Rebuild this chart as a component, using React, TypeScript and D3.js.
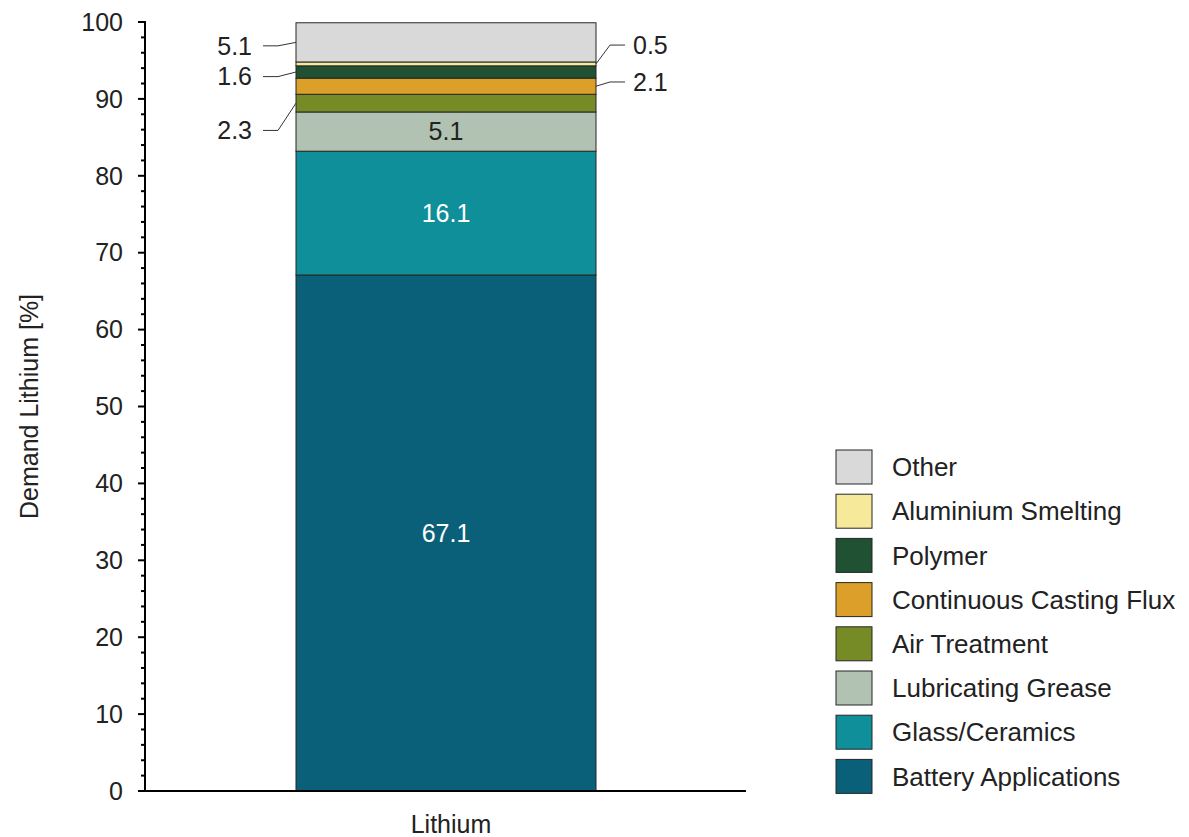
import * as d3 from "d3";

const categories = ["Lithium"];
const keys = [
    "Battery Applications",
    "Glass/Ceramics",
    "Lubricating Grease",
    "Air Treatment",
    "Continuous Casting Flux",
    "Polymer",
    "Aluminium Smelting",
    "Other",
];
const values = [67.1, 16.1, 5.1, 2.3, 2.1, 1.6, 0.5, 5.1];
const colors = ["#0b6079", "#0e8f9a", "#b1c2b3", "#768a26", "#dca02a", "#1f5132", "#f7e99a", "#d9d9d9"];
const yTicks = [0, 10, 20, 30, 40, 50, 60, 70, 80, 90, 100];

// label placement: inside, or outside left/right with leader line
const labelPos = ["in", "in", "in", "left", "right", "left", "right", "left"];
const labelColor = ["#fff", "#fff", "#222", "#222", "#222", "#222", "#222", "#222"];
// y of the outside label text, in value units
const outsideLabelAt = [null, null, null, 85.9, 92.2, 92.9, 97.0, 96.9];

const App = () => {
    const width = 1189;
    const height = 837;
    const marginLeft = 146;
    const marginTop = 22;
    const marginBottom = 46;
    const axisRight = 746;

    const row: Record<string, number> = {};
    keys.forEach((k, i) => { row[k] = values[i]; });
    const series = d3.stack<Record<string, number>>().keys(keys)([row]);

    const x = d3.scaleBand().domain(categories).range([marginLeft, axisRight]).paddingInner(0).paddingOuter(0.5);
    const y = d3.scaleLinear().domain([0, 100]).range([height - marginBottom, marginTop]);

    const minor = d3.range(0, 101, 2).filter(v => v % 10 !== 0);
    const font = "Liberation Sans, Arial, sans-serif";
    const fs = 25;
    const bx0 = x(categories[0]) as number;
    const bx1 = bx0 + x.bandwidth();

    return (
        <div style={{ position: "absolute", left: 0, top: 0 }}>
            <svg width={width} height={height} style={{ display: "block" }} fontFamily={font}>
                {series.map((s, i) => {
                    const d = s[0];
                    const y0 = y(d[0]);
                    const y1 = y(d[1]);
                    const mid = y((d[0] + d[1]) / 2);
                    const pos = labelPos[i];
                    return (
                        <g key={keys[i]}>
                            <rect x={bx0} y={y1} width={x.bandwidth()} height={y0 - y1}
                                  fill={colors[i]} stroke="#262626" strokeWidth={1} />
                            {pos === "in" &&
                                <text x={(bx0 + bx1) / 2} y={mid} dy="0.35em" textAnchor="middle"
                                      fontSize={fs} fill={labelColor[i]}>{values[i].toFixed(1)}</text>}
                            {pos === "left" && (() => {
                                const ty = y(outsideLabelAt[i] as number);
                                return (
                                    <g>
                                        <polyline fill="none" stroke="#333" strokeWidth={1}
                                                  points={`${bx0},${mid} ${bx0 - 18},${ty} ${bx0 - 33},${ty}`} />
                                        <text x={bx0 - 44} y={ty} dy="0.35em" textAnchor="end"
                                              fontSize={fs} fill={labelColor[i]}>{values[i].toFixed(1)}</text>
                                    </g>
                                );
                            })()}
                            {pos === "right" && (() => {
                                const ty = y(outsideLabelAt[i] as number);
                                return (
                                    <g>
                                        <polyline fill="none" stroke="#333" strokeWidth={1}
                                                  points={`${bx1},${mid} ${bx1 + 14},${ty} ${bx1 + 29},${ty}`} />
                                        <text x={bx1 + 37} y={ty} dy="0.35em" textAnchor="start"
                                              fontSize={fs} fill={labelColor[i]}>{values[i].toFixed(1)}</text>
                                    </g>
                                );
                            })()}
                        </g>
                    );
                })}

                {/* y axis */}
                <line x1={marginLeft - 1} x2={marginLeft - 1} y1={y(100)} y2={y(0)} stroke="#000" strokeWidth={2} />
                {yTicks.map(t => (
                    <g key={t}>
                        <line x1={marginLeft - 8} x2={marginLeft} y1={y(t)} y2={y(t)} stroke="#000" strokeWidth={2} />
                        <text x={marginLeft - 23} y={y(t)} dy="0.35em" textAnchor="end" fontSize={fs} fill="#222">{t}</text>
                    </g>
                ))}
                {minor.map(t => (
                    <line key={t} x1={marginLeft - 5} x2={marginLeft} y1={y(t)} y2={y(t)} stroke="#000" strokeWidth={2} />
                ))}
                <text transform={`translate(38,${(y(0) + y(100)) / 2}) rotate(-90)`} textAnchor="middle"
                      fontSize={fs} fill="#222">Demand Lithium [%]</text>

                {/* x axis */}
                <line x1={marginLeft - 8} x2={axisRight} y1={y(0)} y2={y(0)} stroke="#000" strokeWidth={2} />
                {categories.map(c => (
                    <text key={c} x={(x(c) as number) + x.bandwidth() / 2 + 5} y={y(0) + 42} textAnchor="middle"
                          fontSize={fs} fill="#222">{c}</text>
                ))}

                {/* legend */}
                {keys.slice().reverse().map((k, j) => {
                    const i = keys.length - 1 - j;
                    const cy = 467 + j * 44.2;
                    return (
                        <g key={k}>
                            <rect x={836} y={cy - 17} width={36} height={34} fill={colors[i]} stroke="#262626" strokeWidth={1} />
                            <text x={892} y={cy} dy="0.35em" fontSize={26} fill="#222">{k}</text>
                        </g>
                    );
                })}
            </svg>
        </div>
    );
};

export default App;
